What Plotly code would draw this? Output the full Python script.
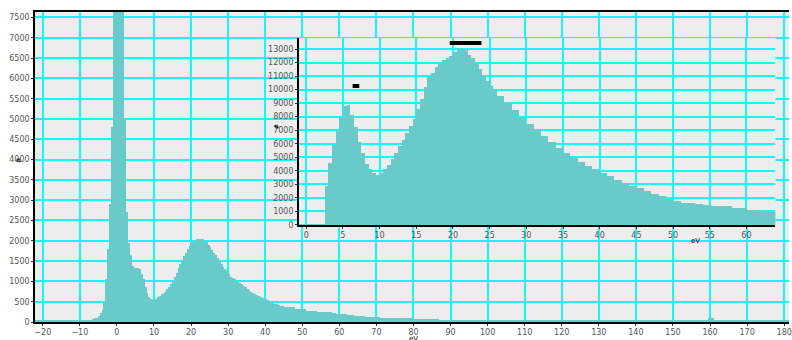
import numpy as np
import plotly.graph_objects as go

# ---------------- main spectrum (counts per bin) ----------------
main_edges = np.concatenate([
    [-22.5, -15, -10, -8],
    np.arange(-7, 45.001, 0.5),
    np.arange(46, 87.001, 1.0),
    [95, 105, 115, 125, 135, 145, 155, 159.5, 161, 170, 182],
])
main_counts = (
    [45, 48, 50, 55]
    + [60, 70, 90, 110, 150, 210, 300, 500, 1050, 1800, 2900, 4800,
       12000, 30000, 40000, 30000, 18000, 9000, 5000, 2700, 1950, 1650,
       1380, 1330, 1320, 1330, 1300, 1180, 1050, 850, 720, 620, 570, 545]
    + [530, 560, 610, 630, 680, 720, 760, 820, 870, 930,
       990, 1100, 1200, 1320, 1430, 1530, 1620, 1700, 1790, 1860,
       1920, 1980, 2020, 2040, 2050, 2050, 2040, 2000, 1960, 1900,
       1840, 1770, 1710, 1650, 1570, 1500, 1430, 1360, 1310, 1250,
       1180, 1120, 1080, 1050, 1020, 990, 960, 930, 890, 850,
       820, 790, 740, 720, 690, 670, 650, 620, 600, 580,
       560, 530, 510, 485, 465, 445, 440, 420, 400, 385]
    + [380, 375, 370, 330, 320, 315, 280, 280, 275,
       250, 248, 245, 240, 210, 205, 205, 200, 175, 170,
       160, 160, 155, 135, 130, 130, 125,
       110, 108, 106, 105, 105, 104, 103, 100, 100,
       75, 72, 74, 70, 72, 70, 68]
    + [52, 50, 48, 47, 46, 45, 45, 44, 90, 44, 43]
)

# ---------------- inset spectrum ----------------
inset_edges = np.concatenate([
    [-1.0],
    np.arange(2.5, 26.001, 0.5),
    np.arange(27, 64.001, 1.0),
])
inset_counts = (
    [60]
    + [2900, 4600, 5900, 6950, 7900, 8800, 8850, 8100, 7250, 6150,
       5350, 4500, 4100, 3850, 3700, 3820, 4150, 4450, 4850, 5300,
       5800, 6250, 6800, 7300, 7850, 8600, 9300, 10200, 10900, 11250,
       11650, 11950, 12150, 12300, 12500, 12750, 13050, 13000, 12900, 12550,
       12350, 12000, 11500, 11050, 10600, 10250, 9950]
    + [9500, 9000, 8500, 8000, 7450, 7000, 6550, 6100, 5700, 5300,
       4950, 4650, 4350, 4100, 3850, 3600, 3350, 3100, 2900, 2700,
       2500, 2300, 2150, 1950, 1750, 1650, 1620, 1580, 1500, 1420,
       1400, 1380, 1250, 1220, 1120, 1080, 1000, 980]
)

# black range markers in the inset
mark_x0 = [6.32, 19.56]
mark_x1 = [7.23, 23.88]
mark_y = [10270, 13440]

main_xticks = list(range(-20, 181, 10))
main_yticks = list(range(0, 7501, 500))
inset_xticks = list(range(0, 61, 5))
inset_yticks = list(range(0, 13001, 1000))

BAR = "#69CACA"
GRID = "#14F8F8"
BG = "#EDEDED"
TICKFONT = dict(family="DejaVu Sans", size=8, color="#555555")

def centres_widths(edges):
    e = np.asarray(edges, dtype=float)
    return (e[:-1] + e[1:]) / 2, np.diff(e)

mx, mw = centres_widths(main_edges)
ix, iw = centres_widths(inset_edges)

fig = go.Figure()
fig.add_trace(go.Bar(x=mx, y=main_counts, width=mw, marker=dict(color=BAR, line=dict(width=0)),
                     xaxis="x", yaxis="y", showlegend=False))
fig.add_trace(go.Bar(x=ix, y=inset_counts, width=iw, marker=dict(color=BAR, line=dict(width=0)),
                     xaxis="x2", yaxis="y2", showlegend=False))
for a, b, h in zip(mark_x0, mark_x1, mark_y):
    fig.add_trace(go.Scatter(x=[a, b], y=[h, h], mode="lines", line=dict(color="black", width=4),
                             xaxis="x2", yaxis="y2", showlegend=False, hoverinfo="skip"))

axis_common = dict(showgrid=True, gridcolor=GRID, gridwidth=1.5, zeroline=False,
                   ticks="outside", ticklen=2, tickcolor="#333", tickfont=TICKFONT,
                   showline=True, linecolor="black", linewidth=1.5, tickformat="d")

fig.update_layout(
    width=792, height=340,
    margin=dict(l=35, r=0, t=12, b=18),
    paper_bgcolor="white", plot_bgcolor=BG,
    bargap=0,
    xaxis=dict(range=[-22.1, 181.3], tickvals=main_xticks, mirror=True, domain=[0, 1],
               anchor="y", ticklabeloverflow="allow", **axis_common),
    yaxis=dict(range=[0, 7635], tickvals=main_yticks, domain=[0, 1], anchor="x", **axis_common),
    xaxis2=dict(range=[-1.0, 63.95], tickvals=inset_xticks, domain=[0.350, 0.982],
                anchor="y2", **axis_common),
    yaxis2=dict(range=[0, 13810], tickvals=inset_yticks, domain=[0.313, 0.916],
                anchor="x2", **axis_common),
    annotations=[
        dict(text="eV", x=0.502, y=-0.054, xref="paper", yref="paper", showarrow=False,
             yanchor="middle", font=dict(family="DejaVu Sans", size=7, color="black")),
        dict(text="#", x=-0.030, y=0.523, xref="paper", yref="paper", showarrow=False,
             textangle=-90, font=dict(family="DejaVu Sans", size=7, color="black")),
        dict(text="eV", x=0.885, y=0.262, xref="paper", yref="paper", showarrow=False,
             yanchor="middle", font=dict(family="DejaVu Sans", size=7, color="black")),
        dict(text="#", x=0.3127, y=0.63, xref="paper", yref="paper", showarrow=False,
             textangle=-90, font=dict(family="DejaVu Sans", size=7, color="black")),
    ],
)

# remove the page's default body margin so the 792x340 figure fills the window exactly
fig.write_html("out.html", config={"displayModeBar": False},
               post_script="document.body.style.margin='0';document.body.style.overflow='hidden';")
